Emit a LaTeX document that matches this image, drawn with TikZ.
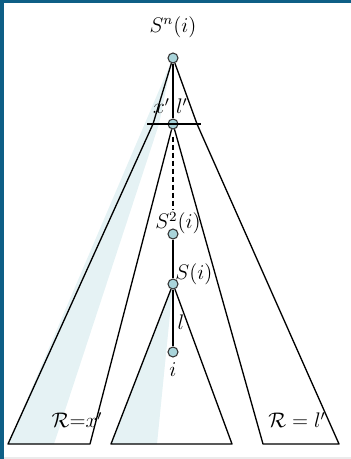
\documentclass[tikz,border=0pt]{standalone}
\usepackage{amsmath,amssymb}
\usetikzlibrary{positioning}
\definecolor{frameblue}{HTML}{0E5F86}
\definecolor{nodeteal}{HTML}{A9D4DA}
\definecolor{paleshade}{HTML}{E5F2F4}

\begin{document}
\begin{tikzpicture}[x=0.02cm, y=-0.02cm,
        vtx/.style={circle, draw=black!80, fill=nodeteal, minimum size=2mm, inner sep=0pt, line width=0.6pt},
        edge/.style={line width=0.75pt, line join=round},
        lbl/.style={inner sep=1pt, font=\large},
    ]
        \useasboundingbox (0,0) rectangle (351,459);

        % Frame
        \fill[frameblue] (0,0) rectangle (351,3);
        \fill[frameblue] (0,0) rectangle (4,459);
        \draw[black!8, line width=1pt] (4,458) -- (351,458);

        % Light wedges
        \fill[paleshade] (172,60) -- (8,444) -- (54,444) -- (159,124) -- cycle;
        \fill[paleshade] (173,284) -- (111,444) -- (157,444) -- cycle;

        % Path nodes
        \node[vtx] (sn) at (173,58) {};
        \node[vtx] (junc) at (173,124) {};
        \node[vtx] (s2) at (173,234) {};
        \node[vtx] (s1) at (173,284) {};
        \node[vtx] (leaf) at (173,352) {};

        % Corners
        \coordinate (barl) at (147,124);
        \coordinate (barr) at (201,124);
        \coordinate (kinkl) at (153,124);
        \coordinate (kinkr) at (197,124);
        \coordinate (xl0) at (8,444);
        \coordinate (xl1) at (90,444);
        \coordinate (md0) at (111,444);
        \coordinate (md1) at (232,444);
        \coordinate (lr0) at (263,444);
        \coordinate (lr1) at (339,444);

        % Outline of the subtrees
        \draw[edge] (barl) -- (barr);
        \draw[edge] (sn) -- (kinkl) -- (xl0) -- (xl1) -- (junc) -- (lr0) -- (lr1) -- (kinkr) -- (sn);
        \draw[edge] (s1) -- (md0) -- (md1) -- (s1);

        % Spine
        \draw[edge] (sn) -- (junc);
        \draw[edge, dash pattern=on 1mm off 0.6mm, shorten <=1.4mm, shorten >=3.6mm] (junc) -- (s2);
        \draw[edge] (s2) -- (s1);
        \draw[edge] (s1) -- (leaf);

        % Labels
        \node[lbl, above=2.6mm of sn] (snlab) {$S^n(i)$};
        \node[lbl, anchor=east] (xlab) at (172,106) {$x'$};
        \node[lbl, anchor=west] (llab) at (174,106) {$l'$};
        \node[lbl] (s2lab) at (178,223) {$S^2(i)$};
        \node[lbl] (s1lab) at (194,274) {$S(i)$};
        \node[lbl] (elab) at (181,322) {$l$};
        \node[lbl, below=0.6mm of leaf] (ilab) {$i$};
        \node[lbl] (rx) at (77,420) {$\mathcal{R}{=}x'$};
        \node[lbl] (rl) at (297,420) {$\mathcal{R}=l'$};

    \end{tikzpicture}
\end{document}
